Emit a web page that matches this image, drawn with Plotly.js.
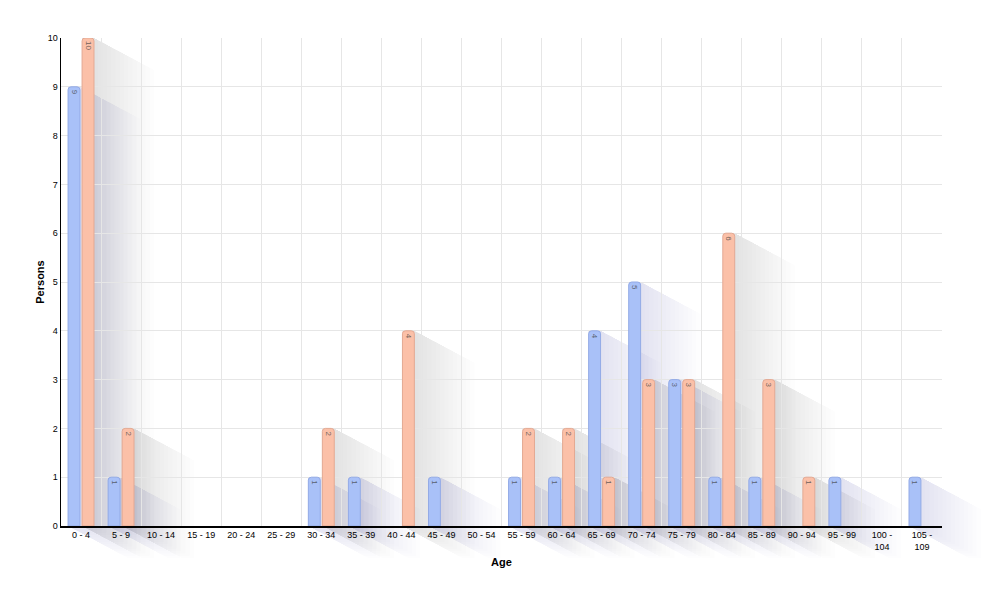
<!DOCTYPE html>
<html><head><meta charset="utf-8">
<script src="https://cdn.plot.ly/plotly-3.0.1.min.js"></script>
<style>html,body{margin:0;padding:0;background:#fff;}#chart{width:995px;height:601px;}</style>
</head><body><div id="chart"></div>
<script>
const categories = ["0 - 4","5 - 9","10 - 14","15 - 19","20 - 24","25 - 29","30 - 34","35 - 39","40 - 44","45 - 49","50 - 54","55 - 59","60 - 64","65 - 69","70 - 74","75 - 79","80 - 84","85 - 89","90 - 94","95 - 99","100 - 104","105 - 109"];
const tickLabels = ["0 - 4","5 - 9","10 - 14","15 - 19","20 - 24","25 - 29","30 - 34","35 - 39","40 - 44","45 - 49","50 - 54","55 - 59","60 - 64","65 - 69","70 - 74","75 - 79","80 - 84","85 - 89","90 - 94","95 - 99","100 -<br>104","105 -<br>109"];
const seriesA = [9,1,0,0,0,0,1,1,0,1,0,1,1,4,5,3,1,1,0,1,0,1];
const seriesB = [10,2,0,0,0,0,2,0,4,0,0,2,2,1,3,3,6,3,1,0,0,0];

const M = {l:61, r:53, t:38, b:75};
const W = 995 - M.l - M.r, H = 601 - M.t - M.b;
const YMAX = 10;
const BARGAP = 0.3, GROUPGAP = 0.15;

function mk(vals, color, line){
  return {
    type:'bar', x:categories, y:vals.map(v=>v===0?null:v),
    text:vals.map(v=>v===0?'':String(v)),
    textposition:'inside', insidetextanchor:'end', textangle:90,
    textfont:{family:'Liberation Sans, Arial, sans-serif', size:8, color:'rgba(60,60,60,0.75)'},
    constraintext:'none',
    marker:{color:color, line:{color:line, width:1}, cornerradius:3},
    hoverinfo:'x+y', showlegend:false
  };
}
const data = [mk(seriesA,'#a9c1f8','#93aae6'), mk(seriesB,'#fbc0a8','#e3a993')];

// decorative drop shadows derived from the bar values
const shapes = [];
const nCat = categories.length;
const slot = (1 - BARGAP) / 2;
const barW = slot * (1 - GROUPGAP);
function addShadows(vals, seriesIdx, rgb){
  const N = 14, DX = 60, DY = 32;
  vals.forEach((v, i) => {
    if (!v) return;
    const left = i + BARGAP/2 + seriesIdx*slot + slot*GROUPGAP/2;
    const xl = left / nCat, xr = (left + barW) / nCat;
    const yt = v / YMAX, y0 = 0;
    for (let k = 1; k <= N; k++) {
      const dx = DX * k / N / W, dy = DY * k / N / H;
      const p = [[xl,yt],[xr,yt],[xr+dx,yt-dy],[xr+dx,y0-dy],[xl+dx,y0-dy],[xl,y0]];
      shapes.push({
        type:'path', xref:'paper', yref:'paper', layer:'below',
        path:'M' + p.map(q => q[0].toFixed(5)+','+q[1].toFixed(5)).join('L') + 'Z',
        fillcolor:'rgba('+rgb+',0.011)', line:{width:0}
      });
    }
  });
}
addShadows(seriesA, 0, '95,102,140');
addShadows(seriesB, 1, '125,102,95');

const layout = {
  width:995, height:601,
  margin:M,
  paper_bgcolor:'#fff', plot_bgcolor:'rgba(0,0,0,0)',
  barmode:'group', bargap:BARGAP, bargroupgap:GROUPGAP,
  font:{family:'Liberation Sans, Arial, sans-serif', size:9, color:'#000'},
  shapes:shapes,
  xaxis:{
    type:'category', tickvals:categories, ticktext:tickLabels,
    tickson:'boundaries', ticks:'', showgrid:true, gridcolor:'#e6e6e6', gridwidth:1,
    showline:true, linecolor:'#000', linewidth:1.5, zeroline:false,
    tickfont:{size:9}, automargin:false,
    title:{text:'<b>Age</b>', font:{size:11}, standoff:7}
  },
  yaxis:{
    range:[0,YMAX], dtick:1, showgrid:true, gridcolor:'#e6e6e6', gridwidth:1,
    showline:true, linecolor:'#000', linewidth:1.5, zeroline:false, ticks:'',
    tickfont:{size:9}, automargin:false,
    title:{text:'<b>Persons</b>', font:{size:11}, standoff:1}
  }
};
Plotly.newPlot('chart', data, layout, {displayModeBar:false, staticPlot:true});
</script></body></html>
